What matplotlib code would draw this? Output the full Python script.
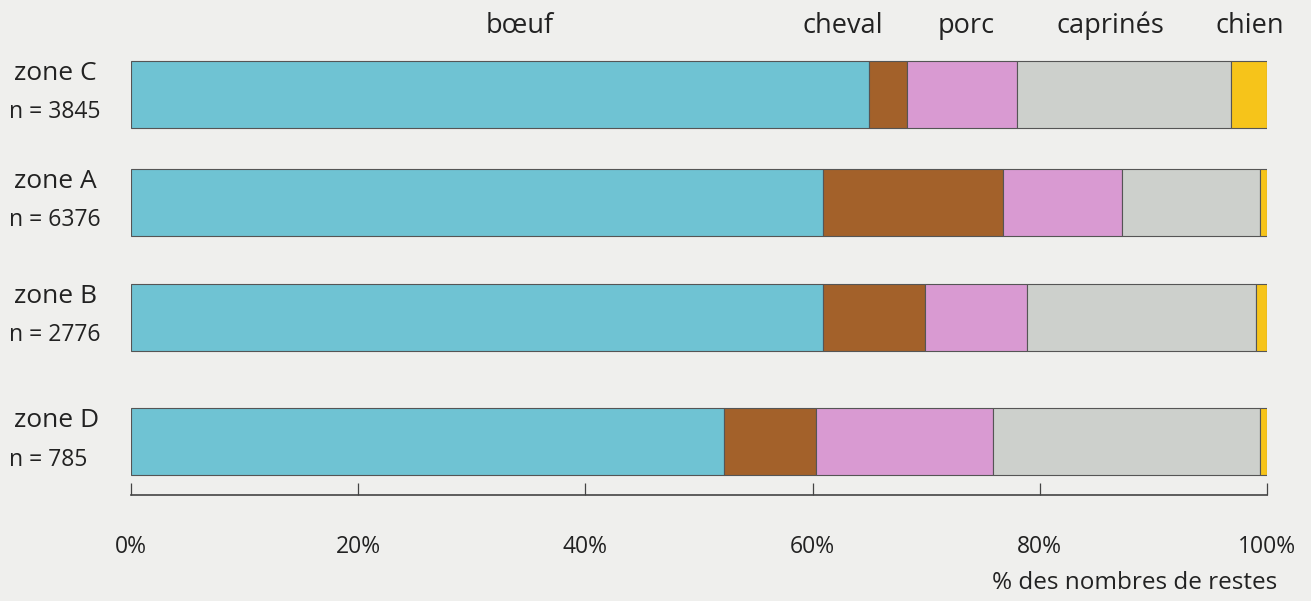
import matplotlib
matplotlib.use("Agg")
import matplotlib.pyplot as plt
import numpy as np

# ---- data ----
zones = ["zone C", "zone A", "zone B", "zone D"]
counts = ["n = 3845", "n = 6376", "n = 2776", "n = 785"]
species = ["bœuf", "cheval", "porc", "caprinés", "chien"]
boeuf = [65.0, 60.9, 60.9, 52.2]
cheval = [3.3, 15.9, 9.0, 8.1]
porc = [9.7, 10.4, 9.0, 15.6]
caprines = [18.8, 12.2, 20.1, 23.5]
chien = [3.2, 0.6, 1.0, 0.6]
tick_values = [0, 20, 40, 60, 80, 100]
tick_labels = ["0%", "20%", "40%", "60%", "80%", "100%"]

# ---- style / layout ----
colors = ["#6fc3d3", "#a3612a", "#d99ad2", "#cdd0cc", "#f6c41a"]
bg = "#efefed"
W, H = 1311, 601
bar_centers = [94, 202.5, 317.5, 441.5]   # pixel rows
bar_h = 67
label_x_pct = [34.2, 62.7, 73.5, 86.2, 98.5]

plt.rcParams['font.family'] = ['Open Sans', 'DejaVu Sans']

fig = plt.figure(figsize=(W / 100, H / 100), dpi=100, facecolor=bg)
ax_left, ax_right = 131 / W, 1267 / W
ax_top, ax_bot = 50, 495
ax = fig.add_axes([ax_left, 1 - ax_bot / H, ax_right - ax_left, (ax_bot - ax_top) / H])
ax.set_facecolor("none")
ax.set_xlim(0, 100)
ax.set_ylim(ax_bot, ax_top)

series = [boeuf, cheval, porc, caprines, chien]
left = np.zeros(len(zones))
for vals, col in zip(series, colors):
    vals = np.array(vals)
    ax.barh(bar_centers, vals, left=left, height=bar_h, color=col,
            edgecolor="#555555", linewidth=0.8)
    left += vals

for sp in ["top", "left", "right"]:
    ax.spines[sp].set_visible(False)
ax.spines["bottom"].set_color("#444444")
ax.spines["bottom"].set_linewidth(1.2)
ax.set_yticks([])
ax.set_xticks(tick_values)
ax.set_xticklabels(tick_labels, fontsize=16.5, color="#222222")
ax.tick_params(axis="x", direction="in", length=9, width=0.9, color="#444444", pad=29)

# zone labels
for yc, z, n in zip(bar_centers, zones, counts):
    fig.text(14 / W, 1 - (yc - 21) / H, z, fontsize=19, color="#222222", ha="left", va="center")
    fig.text(9 / W, 1 - (yc + 18) / H, n, fontsize=16.5, color="#222222", ha="left", va="center")

# species labels on top
for sp_name, xp in zip(species, label_x_pct):
    ax.text(xp, 26, sp_name, fontsize=19.5, color="#222222", ha="center", va="center",
            clip_on=False)

fig.text(1277 / W, 1 - 583 / H, "% des nombres de restes", fontsize=17.5, color="#222222",
         ha="right", va="center")

fig.savefig("out.png", dpi=100, facecolor=bg)
